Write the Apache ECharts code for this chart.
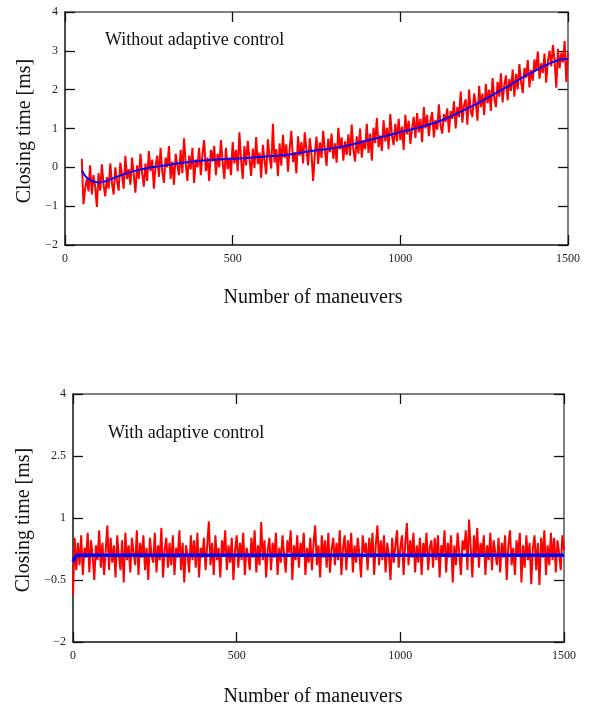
<!DOCTYPE html>
<html>
<head>
<meta charset="utf-8">
<script src="https://cdn.jsdelivr.net/npm/echarts@6/dist/echarts.min.js"></script>
<style>
html,body{margin:0;padding:0;background:#fff;}
#chart{width:589px;height:709px;}
</style>
</head>
<body>
<div id="chart"></div>
<script>
// ---------- data ----------
const yTicksTop = [-2, -1, 0, 1, 2, 3, 4];
const yTicksBottom = [-2, -0.5, 1, 2.5, 4];

// Top panel (without adaptive control): maneuver start / step of the red trace
const redTopStart = 50;
const redTopStep = 5;
const redTop = [
  0.22, -0.95, -0.55, -0.3, -0.62, 0.05, -0.7, -0.2, -0.5,
  -1.02, -0.15, -0.6, 0.08, -0.45, -0.75, -0.25, -0.55, 0.1, -0.4,
  -0.7, 0.0, -0.35, -0.6, 0.12, -0.2, -0.55, 0.3, -0.3, -0.05,
  -0.45, 0.25, -0.2, -0.65, 0.05, -0.3, 0.35, -0.15, -0.5, 0.1,
  -0.35, 0.42, -0.1, 0.2, -0.55, 0.05, 0.3, -0.25, 0.5, -0.1,
  -0.4, 0.25, 0.0, 0.55, -0.3, 0.15, -0.45, 0.35, 0.05, -0.2,
  0.45, -0.15, 0.75, 0.1, -0.35, 0.3, -0.05, 0.5, -0.4, 0.2,
  0.0, 0.5, -0.2, 0.35, 0.7, -0.1, 0.25, -0.35, 0.45, 0.15,
  0.55, -0.2, 0.35, 0.0, 0.7, 0.15, -0.3, 0.5, -0.05, 0.25,
  -0.2, 0.65, 0.1, 0.45, -0.1, 0.9, 0.2, -0.3, 0.55, 0.05,
  0.68, 0.23, -0.22, 0.48, -0.02, 0.78, 0.08, 0.38, -0.27, 0.58,
  0.17, -0.18, 0.72, 0.27, -0.03, 1.12, 0.12, 0.47, -0.23, 0.62,
  0.04, 0.84, 0.24, 0.59, -0.11, 0.49, 0.94, 0.14, 0.39, -0.16,
  0.8, 0.3, 0.65, 0.1, 0.9, 0.45, 0.05, 0.75, 0.35, -0.35,
  0.34, 0.79, 0.09, 0.64, 0.24, 0.94, 0.44, 0.04, 0.74, 0.39,
  0.87, 0.22, 0.62, 0.12, 1.02, 0.47, 0.77, 0.17, 0.67, 0.32,
  0.85, 0.3, 1.1, 0.45, 0.15, 0.8, 0.35, 1.0, 0.25, 0.7,
  0.47, 1.12, 0.37, 0.87, 0.17, 1.02, 0.62, 1.27, 0.52, 0.82,
  0.42, 1.22, 0.67, 1.02, 0.47, 1.37, 0.82, 0.57, 1.12, 0.67,
  1.25, 0.7, 1.05, 0.45, 1.35, 0.85, 1.2, 0.6, 1.0, 1.3,
  0.75, 1.4, 0.9, 1.25, 0.65, 1.55, 1.0, 1.35, 0.8, 1.2,
  1.42, 0.77, 1.22, 0.97, 1.62, 1.07, 0.87, 1.37, 1.17, 1.52,
  0.9, 1.45, 1.25, 1.7, 1.0, 1.55, 1.3, 1.95, 1.15, 1.6,
  1.75, 1.1, 2.0, 1.45, 1.3, 1.9, 1.65, 1.2, 2.1, 1.55,
  1.9, 1.35, 2.15, 1.65, 2.0, 1.45, 2.3, 1.8, 1.55, 2.2,
  1.82, 2.42, 1.67, 2.12, 2.37, 1.72, 2.27, 1.97, 2.52, 1.82,
  2.41, 2.01, 2.66, 2.21, 1.91, 2.56, 2.31, 2.76, 2.06, 2.51,
  2.23, 2.78, 2.48, 2.98, 2.28, 2.68, 2.43, 2.93, 2.18, 2.73,
  3.0, 2.6, 3.15, 2.75, 2.05, 3.05, 2.55, 2.95, 2.7, 3.25,
  2.2, 2.95
];
const blueTopX = [50, 55, 60, 70, 80, 90, 100, 115, 130, 150, 175, 200, 230, 260, 290, 330, 370, 420, 470, 520, 570, 620, 670, 720, 770, 820, 870, 920, 970, 1020, 1070, 1120, 1170, 1220, 1270, 1320, 1370, 1420, 1460, 1490, 1500];
const blueTopY = [-0.08, -0.15, -0.22, -0.3, -0.35, -0.38, -0.39, -0.37, -0.33, -0.26, -0.18, -0.11, -0.05, 0.0, 0.04, 0.09, 0.14, 0.18, 0.21, 0.23, 0.26, 0.29, 0.33, 0.4, 0.46, 0.52, 0.62, 0.73, 0.84, 0.95, 1.06, 1.2, 1.39, 1.6, 1.84, 2.08, 2.34, 2.57, 2.73, 2.79, 2.79];

// Bottom panel (with adaptive control)
const redBotStart = 0;
const redBotStep = 5;
const redBot = [
  -0.85, 0.52, -0.26, 0.4, -0.14, 0.58, -0.38, 0.28, 0.04, 0.64,
  -0.32, 0.46, 0.1, -0.5, 0.34, -0.02, 0.7, -0.2, 0.4, -0.38,
  0.22, 0.82, -0.26, 0.52, -0.08, 0.34, -0.44, 0.58, 0.1, -0.26,
  0.46, -0.56, 0.64, -0.02, 0.34, -0.32, 0.52, 0.16, -0.14, 0.7,
  -0.38, 0.4, 0.04, 0.58, -0.26, 0.28, -0.5, 0.52, 0.1, -0.08,
  0.64, -0.32, 0.34, -0.02, 0.76, -0.44, 0.22, 0.52, -0.2, 0.4,
  -0.14, 0.58, -0.38, 0.28, 0.04, 0.7, -0.26, 0.4, -0.56, 0.34,
  0.1, -0.32, 0.58, -0.02, 0.46, -0.2, 0.64, -0.44, 0.28, 0.04,
  0.52, -0.26, 0.34, 0.92, -0.14, 0.4, -0.38, 0.58, -0.02, 0.28,
  -0.44, 0.46, 0.1, 0.7, -0.26, 0.34, -0.08, 0.52, -0.5, 0.22,
  0.58, -0.2, 0.4, -0.02, 0.64, -0.38, 0.28, 0.1, -0.26, 0.52,
  0.04, 0.7, -0.32, 0.34, -0.14, 0.9, -0.02, 0.46, -0.44, 0.22,
  0.52, -0.26, 0.4, 0.04, 0.64, -0.38, 0.28, -0.08, 0.58, 0.1,
  -0.32, 0.46, 0.16, 0.7, -0.5, 0.34, -0.02, 0.58, -0.2, 0.4,
  0.1, 0.64, -0.38, 0.28, -0.08, 0.52, -0.26, 0.4, 0.82, -0.14,
  0.34, -0.44, 0.58, 0.04, 0.46, -0.2, 0.64, -0.32, 0.22, 0.52,
  -0.14, 0.4, -0.02, 0.7, -0.38, 0.28, 0.58, -0.26, 0.46, 0.04,
  0.64, -0.32, 0.34, -0.08, 0.52, 0.1, -0.44, 0.58, 0.16, 0.4,
  -0.26, 0.52, 0.04, 0.64, -0.38, 0.34, 0.82, -0.14, 0.46, -0.02,
  0.58, -0.32, 0.4, 0.1, -0.5, 0.52, -0.08, 0.34, 0.7, -0.2,
  0.28, 0.58, -0.38, 0.4, 0.88, -0.14, 0.46, 0.04, 0.64, -0.32,
  0.34, -0.08, 0.52, -0.38, 0.4, 0.1, 0.64, -0.26, 0.28, 0.46,
  -0.2, 0.52, -0.02, 0.58, -0.44, 0.34, 0.1, 0.7, -0.32, 0.4,
  0.04, 0.58, -0.56, 0.34, -0.14, 0.64, 0.16, -0.38, 0.46, 0.22,
  0.7, -0.26, 0.96, 0.28, -0.44, 0.58, 0.04, 0.76, -0.2, 0.4,
  0.1, 0.58, -0.38, 0.34, -0.02, 0.64, -0.26, 0.46, 0.16, -0.14,
  0.52, -0.32, 0.4, 0.04, 0.58, -0.5, 0.34, 0.7, -0.14, 0.28,
  -0.38, 0.46, 0.1, 0.64, -0.56, 0.34, -0.2, 0.58, -0.02, 0.4,
  -0.6, 0.28, 0.58, -0.26, 0.4, -0.62, 0.52, 0.04, 0.7, -0.38,
  0.34, -0.14, 0.64, -0.02, 0.52, -0.32, 0.46, 0.16, -0.26, 0.58,
  0.22
];
const blueBotX = [0, 5, 10, 15, 1500];
const blueBotY = [-0.05, 0.02, 0.08, 0.1, 0.1];

// ---------- build ----------
function pairsFromStart(start, step, vals) {
  return vals.map((v, i) => [start + i * step, v]);
}
function zip(xs, ys) { return xs.map((x, i) => [x, ys[i]]); }

const FONT = "'Liberation Serif', 'Times New Roman', serif";
const minus = v => String(v).replace('-', '\u2212');

const grids = [
  { left: 65, right: 21, top: 12, height: 233 },
  { left: 73, right: 25, top: 394, height: 248 }
];

function xAxes(gi) {
  return [
    {
      gridIndex: gi, type: 'value', position: 'bottom', min: 0, max: 1500, interval: 500,
      axisLine: { onZero: false, lineStyle: { color: '#111', width: 1.5 } },
      axisTick: { inside: true, length: 10, lineStyle: { color: '#111', width: 1.3 } },
      axisLabel: { fontFamily: FONT, fontSize: 12, color: '#222', margin: 8, formatter: v => String(v) },
      splitLine: { show: false }
    },
    {
      gridIndex: gi, type: 'value', position: 'top', min: 0, max: 1500, interval: 500,
      axisLine: { onZero: false, lineStyle: { color: '#555', width: 1.5 } },
      axisTick: { inside: true, length: 10, lineStyle: { color: '#111', width: 1.3 } },
      axisLabel: { show: false }, splitLine: { show: false }
    }
  ];
}
function yAxes(gi, ticks, useCustom) {
  const common = {
    gridIndex: gi, type: 'value', min: -2, max: 4,
    splitLine: { show: false }
  };
  if (!useCustom) common.interval = 1;
  const tick = { show: true, inside: true, length: 10, lineStyle: { color: '#111', width: 1.3 } };
  const label = { fontFamily: FONT, fontSize: 12, color: '#222', margin: 7, formatter: minus };
  if (useCustom) { tick.customValues = ticks; label.customValues = ticks; }
  return [
    Object.assign({}, common, {
      position: 'left',
      axisLine: { show: true, onZero: false, lineStyle: { color: '#111', width: 1.5 } },
      axisTick: tick,
      axisLabel: label
    }),
    Object.assign({}, common, {
      position: 'right',
      axisLine: { show: true, onZero: false, lineStyle: { color: '#555', width: 1.5 } },
      axisTick: tick,
      axisLabel: { show: false }
    })
  ];
}

const chart = echarts.init(document.getElementById('chart'), null, { renderer: 'canvas' });
chart.setOption({
  animation: false,
  backgroundColor: '#fff',
  grid: grids,
  xAxis: xAxes(0).concat(xAxes(1)),
  yAxis: yAxes(0, yTicksTop, false).concat(yAxes(1, yTicksBottom, true)),
  series: [
    { type: 'line', xAxisIndex: 0, yAxisIndex: 0, data: pairsFromStart(redTopStart, redTopStep, redTop),
      showSymbol: false, lineStyle: { color: '#ff0000', width: 2 }, z: 2 },
    { type: 'line', xAxisIndex: 0, yAxisIndex: 0, data: zip(blueTopX, blueTopY), smooth: 0.4,
      showSymbol: false, lineStyle: { color: '#0000ff', width: 2 }, z: 3 },
    { type: 'line', xAxisIndex: 2, yAxisIndex: 2, data: pairsFromStart(redBotStart, redBotStep, redBot),
      showSymbol: false, lineStyle: { color: '#ff0000', width: 2 }, z: 2 },
    { type: 'line', xAxisIndex: 2, yAxisIndex: 2, data: zip(blueBotX, blueBotY), smooth: 0.3,
      showSymbol: false, lineStyle: { color: '#0000ff', width: 3.5 }, z: 3 }
  ],
  graphic: [
    { type: 'text', left: 105, top: 31, style: { text: 'Without adaptive control', font: '18px ' + FONT, fill: '#111' } },
    { type: 'text', left: 108, top: 424, style: { text: 'With adaptive control', font: '18px ' + FONT, fill: '#111' } },
    { type: 'text', x: 25, y: 131, rotation: Math.PI / 2, style: { text: 'Closing time [ms]', font: '20px ' + FONT, fill: '#111', align: 'center', verticalAlign: 'middle' } },
    { type: 'text', x: 24, y: 520, rotation: Math.PI / 2, style: { text: 'Closing time [ms]', font: '20px ' + FONT, fill: '#111', align: 'center', verticalAlign: 'middle' } },
    { type: 'text', x: 313, y: 298, style: { text: 'Number of maneuvers', font: '20px ' + FONT, fill: '#111', align: 'center', verticalAlign: 'middle' } },
    { type: 'text', x: 313, y: 697, style: { text: 'Number of maneuvers', font: '20px ' + FONT, fill: '#111', align: 'center', verticalAlign: 'middle' } }
  ]
});
</script>
</body>
</html>
